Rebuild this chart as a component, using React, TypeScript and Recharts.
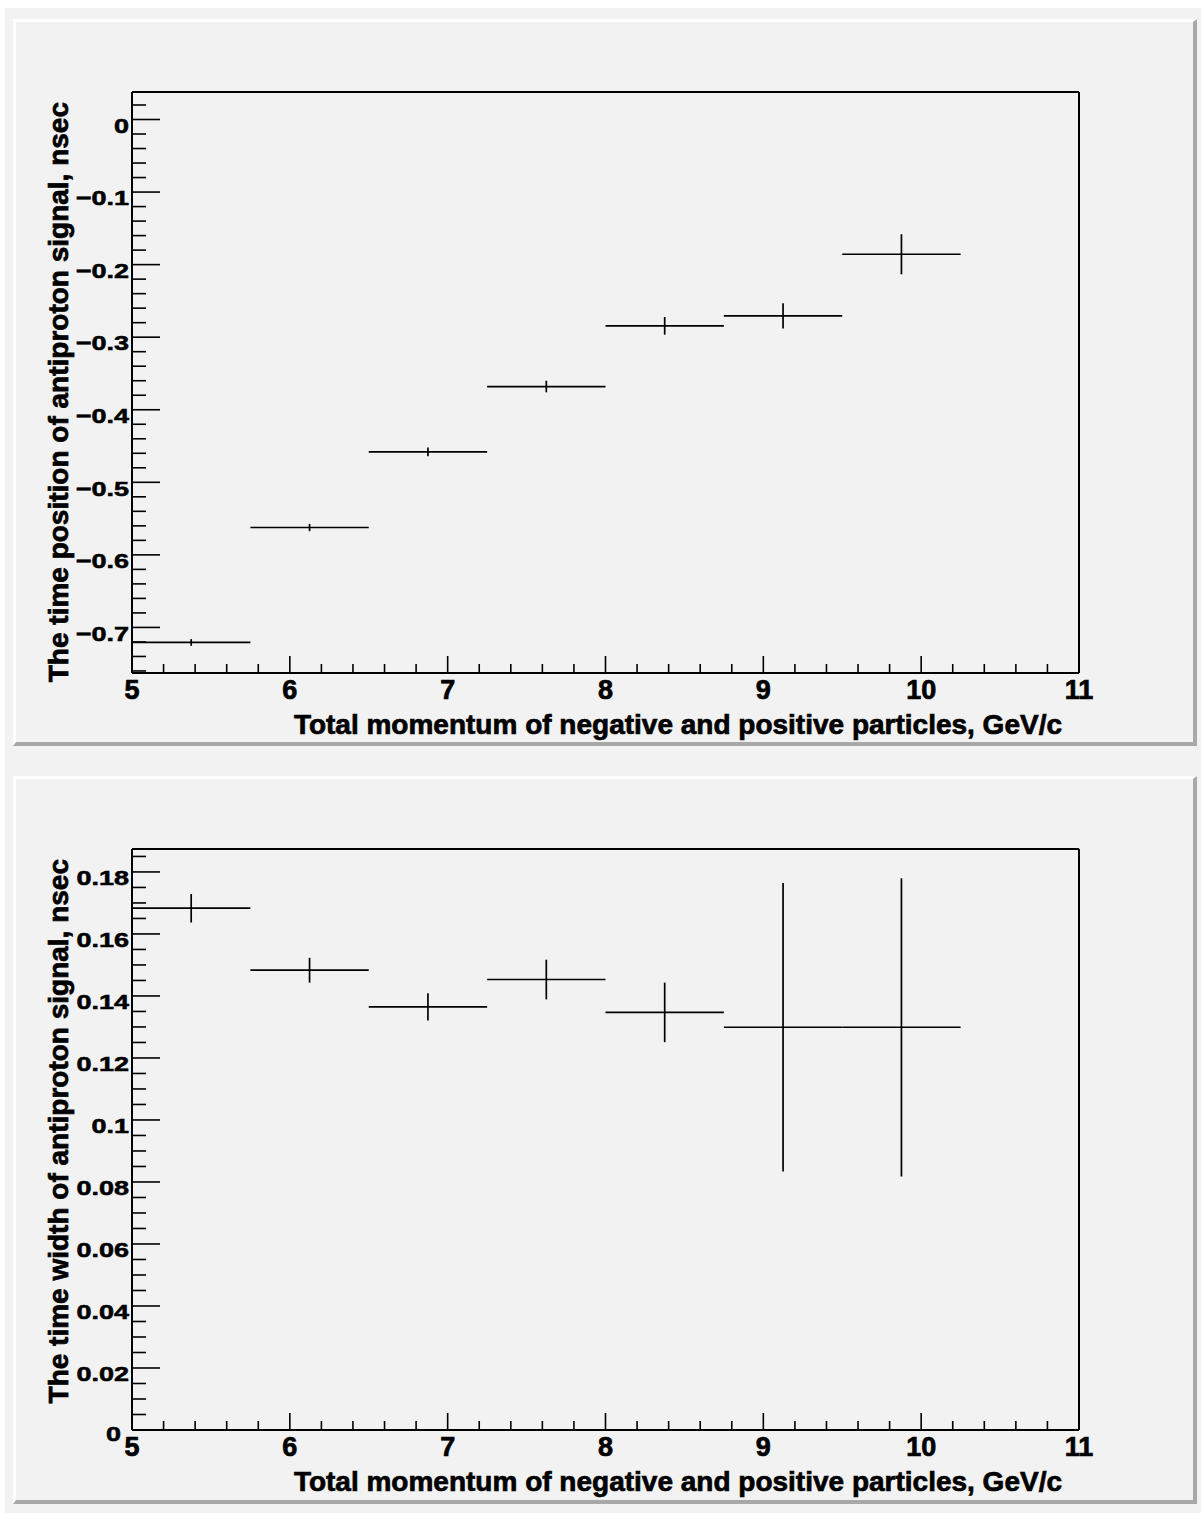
import React from "react";
import {
  ComposedChart,
  Scatter,
  ErrorBar,
  XAxis,
  YAxis,
  ReferenceLine,
  Label,
} from "recharts";

// bins of total momentum, GeV/c
const binCenters = [5.375, 6.125, 6.875, 7.625, 8.375, 9.125, 9.875];
const binHalfWidths = [0.375, 0.375, 0.375, 0.375, 0.375, 0.375, 0.375];

// time position of antiproton signal, nsec
const positionValues = [-0.7207, -0.5623, -0.458, -0.368, -0.2844, -0.2707, -0.1857];
const positionErrors = [0.0046, 0.005, 0.006, 0.008, 0.0122, 0.0175, 0.0276];

// time width of antiproton signal, nsec
const widthValues = [0.1683, 0.1483, 0.1365, 0.1453, 0.1347, 0.1299, 0.1299];
const widthErrors = [0.0046, 0.004, 0.0044, 0.0064, 0.0096, 0.0465, 0.0481];

const xMajorTicks = [5, 6, 7, 8, 9, 10, 11];
const positionMajorTicks = [-0.7, -0.6, -0.5, -0.4, -0.3, -0.2, -0.1, 0];
const widthMajorTicks = [0, 0.02, 0.04, 0.06, 0.08, 0.1, 0.12, 0.14, 0.16, 0.18];

const xDomain = [5, 11];
const positionDomain = [-0.7628, 0.0379];
const widthDomain = [0, 0.1874];

const xTitle = "Total momentum of negative and positive particles, GeV/c";
const positionTitle = "The time position of antiproton signal, nsec";
const widthTitle = "The time width of antiproton signal, nsec";

const FONT = "'Liberation Sans', Arial, Helvetica, sans-serif";
const TEXT_STROKE = 0.7;

const steps = (from: number, to: number, step: number) => {
  const out: number[] = [];
  const n = Math.round((to - from) / step);
  for (let i = 0; i <= n; i++) out.push(Math.round((from + i * step) * 10000) / 10000);
  return out;
};

const xTicks = steps(5, 11, 0.2);
const positionTicks = steps(-0.76, 0.02, 0.02);
const widthTicks = steps(0, 0.185, 0.005);

const isMajor = (v: number, majors: number[]) => majors.some((m) => Math.abs(m - v) < 1e-6);

const fmt = (v: number) => {
  const s = String(Math.round(v * 1000) / 1000);
  return s.replace("-", "\u2212");
};

const XTick = (props: any) => {
  const { x, y, payload } = props;
  const major = isMajor(payload.value, xMajorTicks);
  return (
    <g>
      <line x1={x} y1={y} x2={x} y2={y - (major ? 17 : 9)} stroke="#000" strokeWidth={1.6} />
      {major && (
        <text
          x={x}
          y={y + 26}
          textAnchor="middle"
          fontFamily={FONT}
          fontWeight="bold"
          fontSize={27}
          fill="#000"
          stroke="#000"
          strokeWidth={TEXT_STROKE}
        >
          {fmt(payload.value)}
        </text>
      )}
    </g>
  );
};

// the label sitting on the x axis is pushed left and up so it clears the "5"
const makeYTick = (majors: number[], axisMin: number) => (props: any) => {
  const { x, y, payload } = props;
  const major = isMajor(payload.value, majors);
  const atCorner = Math.abs(payload.value - axisMin) < 1e-6;
  const dx = atCorner ? 11 : 3;
  const dy = atCorner ? 11 : 13.2;
  return (
    <g>
      <line x1={x} y1={y} x2={x + (major ? 28 : 14)} y2={y} stroke="#000" strokeWidth={1.6} />
      {major && (
        <text
          transform={`translate(${x - dx}, ${y + dy}) scale(1, 0.78)`}
          textAnchor="end"
          fontFamily={FONT}
          fontWeight="bold"
          fontSize={27}
          fill="#000"
          stroke="#000"
          strokeWidth={TEXT_STROKE}
        >
          {fmt(payload.value)}
        </text>
      )}
    </g>
  );
};

const rows = (values: number[], errors: number[]) =>
  binCenters.map((c, i) => ({ x: c, ex: binHalfWidths[i], y: values[i], ey: errors[i] }));

type PanelProps = {
  top: number;
  values: number[];
  errors: number[];
  yDomain: number[];
  yTicks: number[];
  yMajors: number[];
  yTitle: string;
};

const Panel = ({ top, values, errors, yDomain, yTicks, yMajors, yTitle }: PanelProps) => {
  const data = rows(values, errors);
  return (
    <div style={{ position: "absolute", left: 0, top }}>
      <ComposedChart
        width={1201}
        height={757}
        data={data}
        margin={{ top: 92, right: 122, bottom: 0, left: 0 }}
      >
        <XAxis
          dataKey="x"
          type="number"
          domain={xDomain}
          allowDataOverflow
          ticks={xTicks}
          interval={0}
          tickSize={0}
          tickMargin={0}
          tickLine={false}
          tick={<XTick />}
          height={84}
          axisLine={{ stroke: "#000", strokeWidth: 2 }}
        >
          <Label
            content={() => (
              <text
                x={1062}
                y={734}
                textAnchor="end"
                fontFamily={FONT}
                fontWeight="bold"
                fontSize={28}
                fill="#000"
                stroke="#000"
                strokeWidth={TEXT_STROKE}
              >
                {xTitle}
              </text>
            )}
          />
        </XAxis>
        <YAxis
          type="number"
          domain={yDomain}
          allowDataOverflow
          ticks={yTicks}
          interval={0}
          tickSize={0}
          tickMargin={0}
          tickLine={false}
          tick={makeYTick(yMajors, yTicks[0] === 0 ? 0 : NaN)}
          width={132}
          axisLine={{ stroke: "#000", strokeWidth: 2 }}
        >
          <Label
            content={() => (
              <text
                x={68}
                y={102}
                transform="rotate(-90 68 102)"
                textAnchor="end"
                fontFamily={FONT}
                fontWeight="bold"
                fontSize={28}
                fill="#000"
                stroke="#000"
                strokeWidth={TEXT_STROKE}
              >
                {yTitle}
              </text>
            )}
          />
        </YAxis>
        <ReferenceLine y={yDomain[1]} stroke="#000" strokeWidth={2} />
        <ReferenceLine x={xDomain[1]} stroke="#000" strokeWidth={2} />
        <Scatter dataKey="y" isAnimationActive={false} shape={() => <g />}>
          <ErrorBar
            dataKey="ey"
            direction="y"
            width={0}
            stroke="#000"
            strokeWidth={1.7}
            isAnimationActive={false}
          />
          <ErrorBar
            dataKey="ex"
            direction="x"
            width={0}
            stroke="#000"
            strokeWidth={1.7}
            isAnimationActive={false}
          />
        </Scatter>
      </ComposedChart>
    </div>
  );
};

const padStyle = (top: number, height: number): React.CSSProperties => ({
  position: "absolute",
  left: 13,
  top,
  width: 1184,
  height,
  boxSizing: "border-box",
  background: "#f2f2f2",
  borderTop: "3px solid #ffffff",
  borderLeft: "3px solid #ffffff",
  borderBottom: "4px solid #a8a8a8",
  borderRight: "4px solid #a8a8a8",
});

export default function App() {
  return (
    <div
      style={{
        position: "absolute",
        left: 0,
        top: 0,
        width: 1201,
        height: 1513,
        background: "#ffffff",
        overflow: "hidden",
      }}
    >
      <div
        style={{
          position: "absolute",
          left: 5,
          top: 8,
          width: 1196,
          height: 1505,
          background: "#f2f2f2",
        }}
      />
      <div style={padStyle(19, 727)} />
      <div style={padStyle(776, 728)} />
      <Panel
        top={0}
        values={positionValues}
        errors={positionErrors}
        yDomain={positionDomain}
        yTicks={positionTicks}
        yMajors={positionMajorTicks}
        yTitle={positionTitle}
      />
      <Panel
        top={757}
        values={widthValues}
        errors={widthErrors}
        yDomain={widthDomain}
        yTicks={widthTicks}
        yMajors={widthMajorTicks}
        yTitle={widthTitle}
      />
    </div>
  );
}
